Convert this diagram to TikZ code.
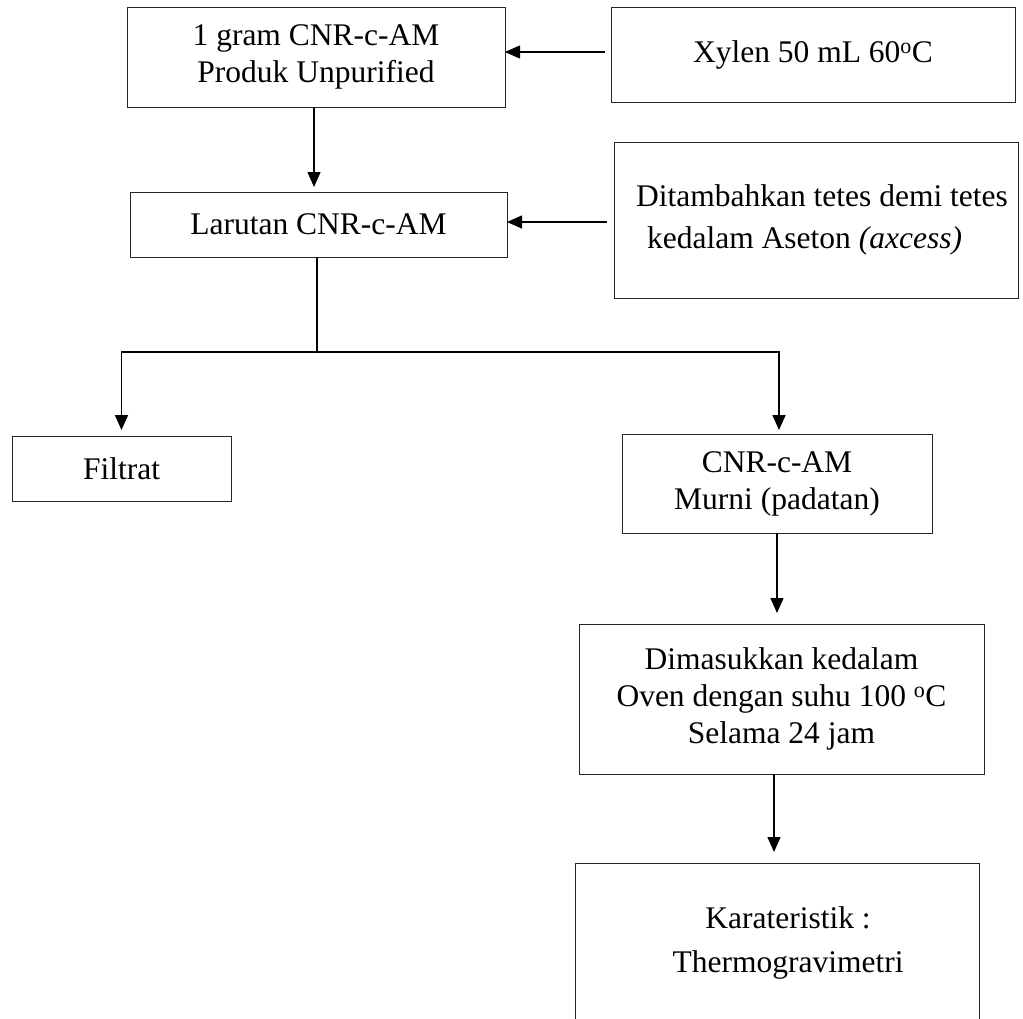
\documentclass[tikz,border=0pt]{standalone}
\usepackage{fontspec}
\setmainfont{Liberation Serif}
\usetikzlibrary{arrows.meta,calc}
\tikzset{
  box/.style={draw=black!85, line width=1pt, anchor=north west, inner sep=0pt, outer sep=0pt,
    align=center, font=\fontsize{31.5}{37}\selectfont},
  conn/.style={line width=1.3pt, -{Triangle[length=15pt,width=13pt]}},
  branch/.style={line width=1.7pt},
  brarrow/.style={line width=1.7pt, -{Triangle[length=15pt,width=13pt]}}
}
\begin{document}
\begin{tikzpicture}[x=1pt,y=-1pt]
\useasboundingbox (0,0) rectangle (1023,1018);
\clip (0,0) rectangle (1023,1018);
\fill[white] (0,0) rectangle (1023,1018);

\node[box, minimum width=378pt, minimum height=100pt] (b1) at (127,7) {1 gram CNR-c-AM\\Produk Unpurified};
\node[box, minimum width=404pt, minimum height=95pt] (b2) at (611,7) {Xylen 50 mL 60\textsuperscript{o}C};
\node[box, minimum width=377pt, minimum height=65pt] (b3) at (130,192) {Larutan CNR-c-AM};
\node[box, minimum width=404pt, minimum height=156pt, align=left, font=\fontsize{31.5}{42}\selectfont] (b4) at (614,142)
  {\hspace*{12pt}Ditambahkan tetes demi tetes\\\hspace*{23pt}kedalam Aseton \textit{(axcess)}};
\node[box, minimum width=219pt, minimum height=65pt] (b5) at (12,436) {Filtrat};
\node[box, minimum width=310pt, minimum height=99pt] (b6) at (622,434) {CNR-c-AM\\Murni (padatan)};
\node[box, minimum width=405pt, minimum height=150pt] (b7) at (579,624)
  {Dimasukkan kedalam\\Oven dengan suhu 100 \textsuperscript{o}C\\Selama 24 jam};
\node[box, minimum width=404pt, minimum height=160pt, font=\fontsize{31.5}{44}\selectfont] (b8) at (575,863)
  {\hspace*{22pt}Karateristik :\\\hspace*{22pt}Thermogravimetri};

\draw[conn, shorten <=6pt] ([yshift=2.5pt]b2.west) -- ([yshift=2.5pt]b2.west -| b1.east);
\draw[conn, shorten <=7pt] ([yshift=-2pt]b4.west) -- ([yshift=-2pt]b4.west -| b3.east);
\draw[conn, shorten >=5pt] ([xshift=-2pt]b1.south) -- ([xshift=-2pt]b1.south |- b3.north);

\path (b3.south) ++(-1.5,95) coordinate (split);
\draw[branch] (split |- b3.south) -- (split);
\draw[brarrow, shorten >=6pt] (split) -| (b5.north);
\draw[brarrow, shorten >=4pt] (split) -| ([xshift=2pt]b6.north);

\draw[conn, shorten >=11pt] (b6.south) -- (b6.south |- b7.north);
\draw[conn, shorten >=11pt] ([xshift=-3pt]b8.north |- b7.south) -- ([xshift=-3pt]b8.north);
\end{tikzpicture}
\end{document}
